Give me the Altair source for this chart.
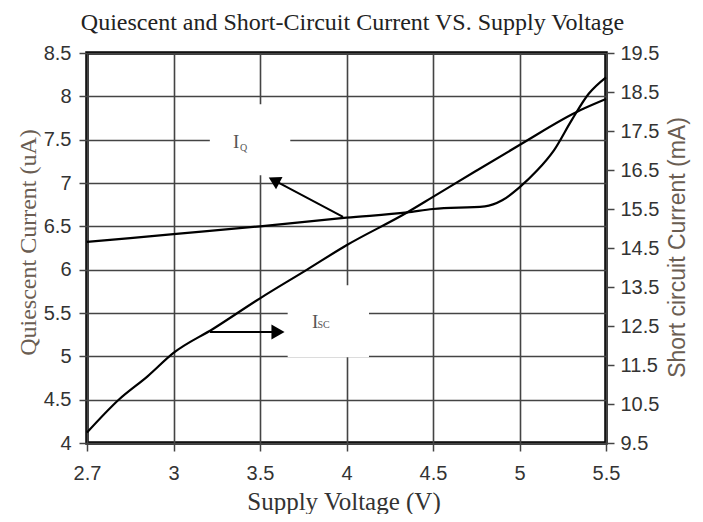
import altair as alt
import pandas as pd

# ---- data ----
volt_ticks = [2.7, 3, 3.5, 4, 4.5, 5, 5.5]
ua_ticks = [4, 4.5, 5, 5.5, 6, 6.5, 7, 7.5, 8, 8.5]
ma_ticks = [9.5, 10.5, 11.5, 12.5, 13.5, 14.5, 15.5, 16.5, 17.5, 18.5, 19.5]

iq_volts = [2.7, 3.0, 3.5, 4.0, 4.35, 4.5, 4.8, 4.9, 5.0, 5.1, 5.2, 5.3, 5.4, 5.5]
iq_ua = [6.32, 6.41, 6.50, 6.60, 6.66, 6.70, 6.73, 6.80, 6.95, 7.14, 7.38, 7.72, 8.03, 8.22]

isc_volts = [2.7, 2.81, 2.91, 3.0, 3.23, 3.5, 3.77, 4.0, 4.35, 4.5, 4.75, 5.0, 5.35, 5.5]
isc_ma = [9.77, 10.61, 11.21, 11.81, 12.43, 13.21, 13.94, 14.57, 15.41, 15.81, 16.48, 17.14, 18.03, 18.32]

# annotation anchors (data units: volts, uA)
box_v1 = [3.21, 3.66]
box_v2 = [3.675, 4.13]
box_u1 = [7.09, 4.99]
box_u2 = [7.91, 5.82]

W, H = 519, 390
SERIF = "Liberation Serif"
SANS = "Liberation Sans"

x_scale = alt.Scale(domain=volt_ticks, range=[i * W / 6 for i in range(7)], nice=False, zero=False)
x_axis = alt.Axis(values=volt_ticks, format=".3~g", grid=True, domain=False, labelFlush=False,
                  gridColor="#444", gridWidth=1.6, tickColor="#444", tickWidth=1.5, tickSize=8,
                  labelFont=SANS, labelFontSize=20, labelColor="#333", labelPadding=12,
                  titleFont=SERIF, titleFontSize=25, titleFontWeight="normal", titleColor="#333",
                  titleBaseline="alphabetic", titleY=66, titleX=W / 2 - 3)
X = alt.X("v:Q", scale=x_scale, axis=x_axis, title="Supply Voltage (V)")

y_scale = alt.Scale(domain=[4, 8.5], nice=False, zero=False)
y_axis = alt.Axis(values=ua_ticks, format=".3~g", grid=True, domain=False, labelFlush=False,
                  gridColor="#444", gridWidth=1.6, tickColor="#444", tickWidth=1.5, tickSize=8,
                  labelFont=SANS, labelFontSize=20, labelColor="#333", labelPadding=8,
                  titleFont=SERIF, titleFontSize=24, titleFontWeight="normal", titleColor="#6a5d52",
                  titleAngle=-90, titleAlign="center", titleBaseline="middle", titleX=-59, titleY=189)
Y = alt.Y("ua:Q", scale=y_scale, axis=y_axis, title="Quiescent Current (uA)")

# white boxes behind the labels
boxes = pd.DataFrame({"v": box_v1, "v2": box_v2, "ua": box_u1, "ua2": box_u2})
box_layer = alt.Chart(boxes).mark_rect(color="white", opacity=1).encode(
    x=X, x2="v2:Q", y=Y, y2="ua2:Q")

iq_df = pd.DataFrame({"v": iq_volts, "ua": iq_ua})
iq_line = alt.Chart(iq_df).mark_line(color="black", strokeWidth=2.2, interpolate="monotone").encode(x=X, y=Y)

# arrows
shafts = pd.DataFrame({"v": [3.98, 3.211], "v2": [3.604, 3.59], "ua": [6.61, 5.281], "ua2": [7.006, 5.281]})
shaft_layer = alt.Chart(shafts).mark_rule(color="black", strokeWidth=2).encode(
    x=X, x2="v2:Q", y=Y, y2="ua2:Q")
head_iq = alt.Chart(pd.DataFrame({"v": [3.581], "ua": [7.031]})).mark_point(
    shape="triangle-up", angle=298, filled=True, size=190, color="black", opacity=1).encode(x=X, y=Y)
head_isc = alt.Chart(pd.DataFrame({"v": [3.604], "ua": [5.281]})).mark_point(
    shape="triangle-right", filled=True, size=230, color="black", opacity=1).encode(x=X, y=Y)


def label(v, ua, txt, size):
    return alt.Chart(pd.DataFrame({"v": [v], "ua": [ua], "t": [txt]})).mark_text(
        font=SERIF, fontSize=size, color="#555", align="left", baseline="alphabetic").encode(
        x=X, y=Y, text="t:N")


labels = [label(3.344, 7.404, "I", 19), label(3.385, 7.37, "Q", 10),
          label(3.80, 5.327, "I", 19), label(3.832, 5.327, "SC", 10)]

left = alt.layer(box_layer, iq_line, shaft_layer, head_iq, head_isc, *labels)

isc_df = pd.DataFrame({"v": isc_volts, "ma": isc_ma})
isc_line = alt.Chart(isc_df).mark_line(color="black", strokeWidth=2.2, interpolate="monotone").encode(
    x=X,
    y=alt.Y("ma:Q", scale=alt.Scale(domain=[9.5, 19.5], nice=False, zero=False),
            axis=alt.Axis(orient="right", values=ma_ticks, format=".3~g", grid=False, domain=False,
                          labelFlush=False, tickColor="#444", tickWidth=1.5, tickSize=8,
                          labelFont=SANS, labelFontSize=20, labelColor="#333", labelPadding=6,
                          titleFont=SANS, titleFontSize=23, titleFontWeight="normal",
                          titleColor="#6a5d52", titleAngle=-90, titleAlign="center",
                          titleBaseline="middle", titleX=71, titleY=194),
            title="Short circuit Current (mA)"))

chart = alt.layer(left, isc_line).resolve_scale(y="independent").properties(
    width=W, height=H,
    title=alt.TitleParams("Quiescent and Short-Circuit Current VS. Supply Voltage",
                          font=SERIF, fontSize=24, fontWeight="normal", color="#222",
                          anchor="middle", offset=8, dx=6),
    autosize=alt.AutoSizeParams(type="none"),
    padding={"left": 79, "top": 45, "right": 89, "bottom": 71},
).configure_view(stroke="black", strokeWidth=3.5)

chart.save("out.html", embed_options={"renderer": "svg", "actions": False})
